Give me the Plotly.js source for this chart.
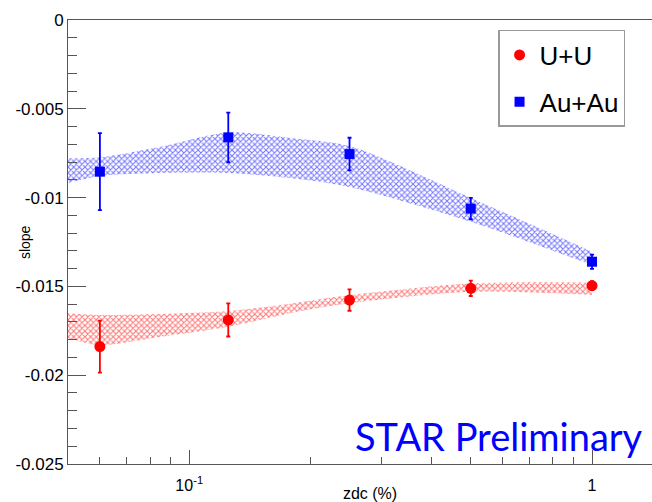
<!DOCTYPE html>
<html>
<head>
<meta charset="utf-8">
<script src="https://cdn.plot.ly/plotly-3.0.1.min.js"></script>
<style>
html, body { margin: 0; padding: 0; overflow: hidden; background: #fff; }
#chart { width: 700px; height: 502px; }
</style>
</head>
<body>
<div id="chart"></div>
<script>
// Data points (zdc fraction, slope)
const zdc = [0.06, 0.125, 0.25, 0.5, 1];
const uuSlope = [-0.01839, -0.01689, -0.01577, -0.01511, -0.01496];
const uuErr = [0.00146, 0.00093, 0.0006, 0.00043, 0.00025];
const auSlope = [-0.00854, -0.00661, -0.00755, -0.01062, -0.01361];
const auErr = [0.00217, 0.0014, 0.00092, 0.0006, 0.0004];

// Systematic bands (hatched)
const bandX = [0.05, 0.06, 0.085, 0.125, 0.18, 0.25, 0.5, 1];
const uuBandUpper = [-0.01651, -0.01661, -0.01655, -0.01639, -0.01596, -0.01549, -0.01483, -0.01479];
const uuBandLower = [-0.01792, -0.0183, -0.01783, -0.01727, -0.01648, -0.01595, -0.0153, -0.01548];
const auBandUpper = [-0.00779, -0.00773, -0.00713, -0.00633, -0.00666, -0.0071, -0.01002, -0.01305];
const auBandLower = [-0.00918, -0.00878, -0.00861, -0.00862, -0.00891, -0.0094, -0.01136, -0.0138];

// Axis ticks
const xMajorVals = [0.1, 1];
const xMajorText = ['10<sup>-1</sup>', '1'];
const xMinorVals = [0.06, 0.07, 0.08, 0.09, 0.2, 0.3, 0.4, 0.5, 0.6, 0.7, 0.8, 0.9];
const yTickVals = [0, -0.005, -0.01, -0.015, -0.02, -0.025];
const yTickText = ['0', '-0.005', '-0.01', '-0.015', '-0.02', '-0.025'];

const seriesNames = ['U+U', 'Au+Au'];

function band(upper, lower, color) {
  return [
    {x: bandX, y: lower, type: 'scatter', mode: 'lines',
     line: {width: 0, shape: 'spline', smoothing: 0.8}, showlegend: false, hoverinfo: 'skip'},
    {x: bandX, y: upper, type: 'scatter', mode: 'lines', fill: 'tonexty',
     fillcolor: 'rgba(0,0,0,0)',
     fillpattern: {shape: 'x', fgcolor: color, bgcolor: 'rgba(255,255,255,0)', size: 4, solidity: 0.45},
     line: {width: 0, shape: 'spline', smoothing: 0.8}, showlegend: false, hoverinfo: 'skip'}
  ];
}

const traces = [].concat(
  band(uuBandUpper, uuBandLower, 'rgba(255,60,60,0.7)'),
  band(auBandUpper, auBandLower, 'rgba(60,60,255,0.7)'),
  [
    {x: zdc, y: uuSlope, name: seriesNames[0], type: 'scatter', mode: 'markers',
     legendgroup: 'uu',
     marker: {symbol: 'circle', size: 11, color: '#ff0000'},
     error_y: {type: 'data', array: uuErr, visible: true, color: '#ff0000', thickness: 1.8, width: 2}},
    {x: zdc, y: auSlope, name: seriesNames[1], type: 'scatter', mode: 'markers',
     legendgroup: 'au',
     marker: {symbol: 'square', size: 10, color: '#0000ff'},
     error_y: {type: 'data', array: auErr, visible: true, color: '#0000ff', thickness: 1.8, width: 2}}
  ]
);

const font = 'Liberation Sans, Arial, sans-serif';

const layout = {
  width: 700, height: 502,
  margin: {l: 68, r: 28, t: 20, b: 38},
  paper_bgcolor: '#ffffff', plot_bgcolor: '#ffffff',
  font: {family: font, color: '#000'},
  showlegend: true,
  legend: {
    x: 0.712, y: 0.9775, xanchor: 'left', yanchor: 'top',
    bgcolor: '#ffffff', bordercolor: '#999999', borderwidth: 1.5,
    font: {family: font, size: 26, color: '#000'},
    traceorder: 'grouped', tracegroupgap: 10
  },
  xaxis: {
    type: 'log',
    range: [Math.log10(0.05), 0.1986],
    showgrid: false, zeroline: false,
    showline: true, linecolor: '#555', linewidth: 1, mirror: true,
    ticks: 'inside', ticklen: 14, tickcolor: '#555', tickwidth: 1,
    tickmode: 'array', tickvals: xMajorVals, ticktext: xMajorText,
    tickfont: {family: font, size: 16, color: '#000'},
    ticklabelstandoff: 7,
    minor: {tickmode: 'array', tickvals: xMinorVals, ticks: 'inside', ticklen: 7, tickcolor: '#555', tickwidth: 1, showgrid: false},
    title: {text: 'zdc (%)', font: {family: font, size: 16, color: '#000'}, standoff: 0},
    automargin: false
  },
  yaxis: {
    range: [-0.025, 0],
    showgrid: false, zeroline: false,
    showline: true, linecolor: '#555', linewidth: 1, mirror: true,
    ticks: 'inside', ticklen: 18, tickcolor: '#555', tickwidth: 1,
    tickmode: 'array', tickvals: yTickVals, ticktext: yTickText,
    tickfont: {family: font, size: 17, color: '#000'},
    ticklabelstandoff: 0,
    minor: {dtick: 0.001, ticks: 'inside', ticklen: 9, tickcolor: '#555', tickwidth: 1, showgrid: false},
    automargin: false
  },
  annotations: [
    {text: 'slope', xref: 'paper', yref: 'paper', x: -0.071, y: 0.5,
     xanchor: 'center', yanchor: 'middle', textangle: -90, showarrow: false,
     font: {family: font, size: 14, color: '#000'}},
    {text: 'STAR Preliminary', xref: 'paper', yref: 'paper', x: 0.955, y: 0.063,
     xanchor: 'right', yanchor: 'middle', showarrow: false,
     font: {family: 'Lato, Open Sans, sans-serif', size: 38, color: '#0000ff'}}
  ]
};

Plotly.newPlot('chart', traces, layout, {displayModeBar: false, staticPlot: true});
</script>
</body>
</html>
